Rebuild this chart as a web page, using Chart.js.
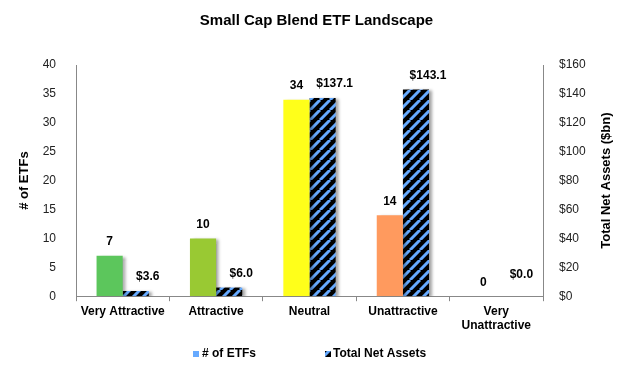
<!DOCTYPE html>
<html>
<head>
<meta charset="utf-8">
<script src="https://cdn.jsdelivr.net/npm/chart.js@4/dist/chart.umd.min.js"></script>
<style>
  html, body { margin: 0; padding: 0; background: #fff; }
  #wrap { width: 630px; height: 369px; }
</style>
</head>
<body>
<div id="wrap"><canvas id="myChart" width="630" height="369"></canvas></div>
<script>
// Chart data
const categories = ['Very Attractive', 'Attractive', 'Neutral', 'Unattractive', ['Very', 'Unattractive']];
const etfCounts = [7, 10, 34, 14, 0];
const netAssets = [3.6, 6.0, 137.1, 143.1, 0.0];
const leftTicks = [0, 5, 10, 15, 20, 25, 30, 35, 40];
const rightTicks = [0, 20, 40, 60, 80, 100, 120, 140, 160];

const barColors = ['#5cc65c', '#99c933', '#ffff1a', '#ff9a5e', '#a0a0a0'];
const FONT = '"Liberation Sans", Arial, sans-serif';

// hatched fill: black with light blue diagonal stripes
function makeHatch() {
    const c = document.createElement('canvas');
    c.width = 10; c.height = 10;
    const g = c.getContext('2d');
    g.fillStyle = '#000';
    g.fillRect(0, 0, 10, 10);
    g.strokeStyle = '#66aaff';
    g.lineWidth = 3;
    g.beginPath();
    for (let k = -10; k <= 20; k += 10) {
        g.moveTo(k, 10);
        g.lineTo(k + 10, 0);
    }
    g.stroke();
    return g.createPattern(c, 'repeat');
}
const hatch = makeHatch();

// soft shadow behind bars
const shadowPlugin = {
    id: 'barShadow',
    beforeDatasetsDraw(chart) {
        const ctx = chart.ctx;
        ctx.save();
        ctx.shadowColor = 'rgba(0,0,0,0.35)';
        ctx.shadowBlur = 3;
        ctx.shadowOffsetX = 3;
        ctx.shadowOffsetY = 1;
    },
    afterDatasetsDraw(chart) {
        chart.ctx.restore();
    }
};

// value labels over bars
const labelPlugin = {
    id: 'valueLabels',
    afterDatasetsDraw(chart) {
        const ctx = chart.ctx;
        ctx.save();
        ctx.font = 'bold 12px ' + FONT;
        ctx.fillStyle = '#000';
        ctx.textAlign = 'center';
        ctx.textBaseline = 'bottom';
        chart.data.datasets.forEach(function (ds, di) {
            const meta = chart.getDatasetMeta(di);
            meta.data.forEach(function (bar, i) {
                const v = ds.data[i];
                let text, dx = 0;
                if (di === 0) {
                    text = String(v);
                } else {
                    text = '$' + v.toFixed(1);
                    dx = 12;
                }
                const dy = (i === 4 && di === 1) ? 16 : 8;
                ctx.fillText(text, bar.x + dx, bar.y - dy);
            });
        });
        ctx.restore();
    }
};

// right axis title (bottom-to-top) and bottom legend
const extrasPlugin = {
    id: 'extras',
    afterDraw(chart) {
        const ctx = chart.ctx;
        const area = chart.chartArea;
        ctx.save();
        ctx.translate(606, (area.top + area.bottom) / 2);
        ctx.rotate(-Math.PI / 2);
        ctx.font = 'bold 13px ' + FONT;
        ctx.fillStyle = '#000';
        ctx.textAlign = 'center';
        ctx.textBaseline = 'middle';
        ctx.fillText('Total Net Assets ($bn)', 0, 0);
        ctx.restore();

        ctx.save();
        ctx.font = 'bold 12px ' + FONT;
        ctx.textBaseline = 'middle';
        const ly = 354;
        ctx.fillStyle = '#66aaff';
        ctx.fillRect(193, ly - 3, 6, 6);
        ctx.fillStyle = '#000';
        ctx.fillText('# of ETFs', 202, ly);
        ctx.fillStyle = hatch;
        ctx.fillRect(325, ly - 3, 6, 6);
        ctx.fillStyle = '#000';
        ctx.fillText('Total Net Assets', 333, ly);
        ctx.restore();
    }
};

const ctx = document.getElementById('myChart').getContext('2d');
const myChart = new Chart(ctx, {
    type: 'bar',
    data: {
        labels: categories,
        datasets: [{
            label: '# of ETFs',
            data: etfCounts,
            backgroundColor: barColors,
            yAxisID: 'y'
        }, {
            label: 'Total Net Assets',
            data: netAssets,
            backgroundColor: hatch,
            yAxisID: 'y1'
        }]
    },
    plugins: [shadowPlugin, labelPlugin, extrasPlugin],
    options: {
        responsive: false,
        animation: false,
        categoryPercentage: 0.56,
        barPercentage: 1.0,
        layout: { padding: { top: 0, left: 15, right: 12, bottom: 33 } },
        plugins: {
            title: {
                display: true,
                text: 'Small Cap Blend ETF Landscape',
                color: '#000',
                font: { family: FONT, size: 15, weight: 'bold' },
                padding: { top: 12, bottom: 35 }
            },
            legend: { display: false },
            tooltip: { enabled: false }
        },
        scales: {
            x: {
                grid: {
                    display: true,
                    drawOnChartArea: false,
                    offset: true,
                    tickLength: 5,
                    color: '#888'
                },
                border: { color: '#888' },
                ticks: {
                    color: '#000',
                    maxRotation: 0,
                    autoSkip: false,
                    font: { family: FONT, size: 12, weight: 'bold' }
                }
            },
            y: {
                position: 'left',
                min: 0,
                max: 40,
                afterBuildTicks(axis) {
                    axis.ticks = leftTicks.map(v => ({ value: v }));
                },
                afterFit(axis) {
                    axis.width = 61;
                },
                grid: { display: false },
                border: { color: '#888' },
                ticks: {
                    color: '#222',
                    padding: 12,
                    font: { family: FONT, size: 12 }
                },
                title: {
                    display: true,
                    text: '# of ETFs',
                    color: '#000',
                    font: { family: FONT, size: 13, weight: 'bold' },
                    padding: { top: 2, bottom: 0 }
                }
            },
            y1: {
                position: 'right',
                min: 0,
                max: 160,
                afterBuildTicks(axis) {
                    axis.ticks = rightTicks.map(v => ({ value: v }));
                },
                afterFit(axis) {
                    axis.width = 75;
                },
                grid: { display: false },
                border: { color: '#888' },
                ticks: {
                    color: '#222',
                    padding: 8,
                    font: { family: FONT, size: 12 },
                    callback: v => '$' + v
                }
            }
        }
    }
});
</script>
</body>
</html>
